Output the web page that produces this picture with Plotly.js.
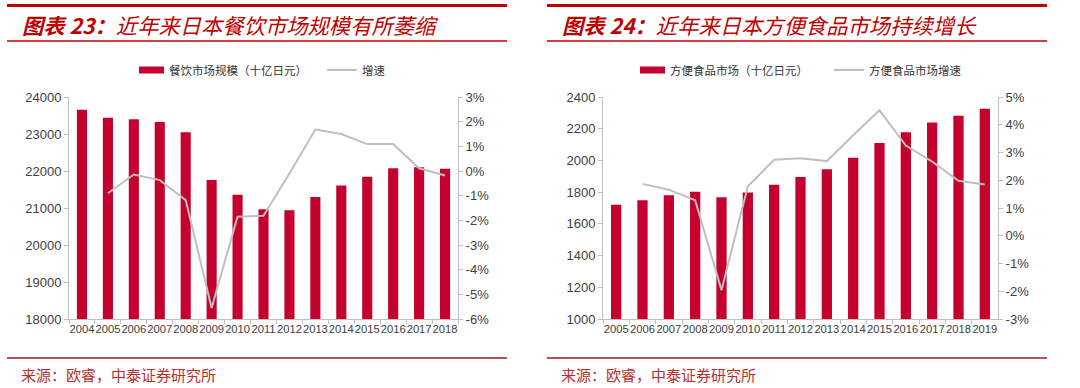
<!DOCTYPE html>
<html>
<head>
<meta charset="utf-8">
<script src="https://cdn.plot.ly/plotly-3.0.1.min.js"></script>
<style>
  html, body { margin: 0; padding: 0; background: #fff; }
  #chart { width: 1080px; height: 388px; }
</style>
</head>
<body>
<div id="chart"></div>
<script>
// ---- Data ----
const years1 = ["2004","2005","2006","2007","2008","2009","2010","2011","2012","2013","2014","2015","2016","2017","2018"];
const market1 = [23655, 23436, 23400, 23327, 23045, 21755, 21357, 20964, 20937, 21295, 21607, 21845, 22073, 22100, 22064];
const growth1 = [null, -0.9, -0.14, -0.37, -1.18, -5.55, -1.85, -1.81, -0.1, 1.68, 1.5, 1.09, 1.09, 0.11, -0.18];

const years2 = ["2005","2006","2007","2008","2009","2010","2011","2012","2013","2014","2015","2016","2017","2018","2019"];
const market2 = [1720, 1749, 1781, 1802, 1768, 1798, 1846, 1896, 1945, 2017, 2110, 2178, 2239, 2282, 2326];
const growth2 = [null, 1.87, 1.66, 1.28, -1.96, 1.78, 2.74, 2.79, 2.69, 3.62, 4.52, 3.25, 2.67, 1.98, 1.85];

const leftTicks1 = [18000, 19000, 20000, 21000, 22000, 23000, 24000];
const rightTickVals1 = [-6, -5, -4, -3, -2, -1, 0, 1, 2, 3];
const rightTickText1 = ["-6%", "-5%", "-4%", "-3%", "-2%", "-1%", "0%", "1%", "2%", "3%"];
const leftTicks2 = [1000, 1200, 1400, 1600, 1800, 2000, 2200, 2400];
const rightTickVals2 = [-3, -2, -1, 0, 1, 2, 3, 4, 5];
const rightTickText2 = ["-3%", "-2%", "-1%", "0%", "1%", "2%", "3%", "4%", "5%"];

const names1 = ["餐饮市场规模（十亿日元）", "增速"];
const names2 = ["方便食品市场（十亿日元）", "方便食品市场增速"];
const titles = ["图表 23：", "近年来日本餐饮市场规模有所萎缩", "图表 24：", "近年来日本方便食品市场持续增长"];
const sourceText = "来源：欧睿，中泰证券研究所";

// ---- Styles ----
const W = 1080, H = 388;
const barColor = "#C5002F";
const lineColor = "#BFBFBF";
const red = "#C00000";
const axisColor = "#BFBFBF";
const tickFont = { family: "Liberation Sans, Arial, sans-serif", size: 13, color: "#404040" };
const xTickFont = { family: "Liberation Sans, Arial, sans-serif", size: 11.2, color: "#404040" };
const cjk = "Noto Sans CJK SC, sans-serif";

const px = v => v / W;
const py = v => 1 - v / H;

const traces = [
  { type: "bar", x: years1, y: market1, name: names1[0], marker: { color: barColor },
    xaxis: "x", yaxis: "y", legend: "legend" },
  { type: "scatter", mode: "lines", x: years1, y: growth1, name: names1[1],
    line: { color: lineColor, width: 2 }, xaxis: "x", yaxis: "y2", legend: "legend", connectgaps: false },
  { type: "bar", x: years2, y: market2, name: names2[0], marker: { color: barColor },
    xaxis: "x2", yaxis: "y3", legend: "legend2" },
  { type: "scatter", mode: "lines", x: years2, y: growth2, name: names2[1],
    line: { color: lineColor, width: 2 }, xaxis: "x2", yaxis: "y4", legend: "legend2" }
];

const yDom = [py(319), py(97)];
const xAxisBase = {
  type: "category", showline: true, linecolor: axisColor, linewidth: 1,
  ticks: "outside", tickson: "boundaries", ticklen: 4, tickcolor: axisColor,
  tickfont: xTickFont, tickangle: 0, showgrid: false, zeroline: false, fixedrange: true
};
const yAxisBase = {
  showline: true, linecolor: axisColor, linewidth: 1, ticks: "outside", ticklen: 4,
  tickcolor: axisColor, tickfont: tickFont, showgrid: false, zeroline: false, fixedrange: true
};

const legendBase = {
  orientation: "h", xanchor: "left", yanchor: "middle", bgcolor: "rgba(0,0,0,0)",
  font: { family: cjk, size: 11.5, color: "#333" }, itemwidth: 30, tracegroupgap: 0,
  entrywidthmode: "pixels"
};

const lineShapes = [];
[0, 540].forEach(off => {
  lineShapes.push({ type: "line", xref: "paper", yref: "paper", x0: px(off + 7), x1: px(off + 507), y0: py(5.5), y1: py(5.5), line: { color: red, width: 3 } });
  lineShapes.push({ type: "line", xref: "paper", yref: "paper", x0: px(off + 7), x1: px(off + 507), y0: py(41), y1: py(41), line: { color: red, width: 1.5 } });
  lineShapes.push({ type: "line", xref: "paper", yref: "paper", x0: px(off + 7), x1: px(off + 507), y0: py(358), y1: py(358), line: { color: "#A01818", width: 1.5 } });
});

const annotations = [];
[[0, titles[0], titles[1]], [540, titles[2], titles[3]]].forEach(([off, a, b]) => {
  annotations.push({ xref: "paper", yref: "paper", x: px(off + 20), y: py(25), xanchor: "left", yanchor: "middle",
    showarrow: false, text: "<b>" + a + "</b>" + b,
    font: { family: cjk, size: 21.3, color: red, style: "italic" } });
  annotations.push({ xref: "paper", yref: "paper", x: px(off + 19), y: py(374), xanchor: "left", yanchor: "middle",
    showarrow: false, text: sourceText,
    font: { family: cjk, size: 15, color: "#B5302A" } });
});

const layout = {
  width: W, height: H,
  margin: { l: 0, r: 0, t: 0, b: 0 },
  paper_bgcolor: "#fff", plot_bgcolor: "rgba(0,0,0,0)",
  bargap: 0.61,
  xaxis: Object.assign({}, xAxisBase, { domain: [px(69), px(458)], anchor: "y" }),
  yaxis: Object.assign({}, yAxisBase, { domain: yDom, anchor: "x", range: [18000, 24000], tickvals: leftTicks1, tickformat: "d" }),
  yaxis2: Object.assign({}, yAxisBase, { overlaying: "y", side: "right", anchor: "x", range: [-6, 3], tickvals: rightTickVals1, ticktext: rightTickText1 }),
  xaxis2: Object.assign({}, xAxisBase, { domain: [px(603), px(998)], anchor: "y3" }),
  yaxis3: Object.assign({}, yAxisBase, { domain: yDom, anchor: "x2", range: [1000, 2400], tickvals: leftTicks2, tickformat: "d" }),
  yaxis4: Object.assign({}, yAxisBase, { overlaying: "y3", side: "right", anchor: "x2", range: [-3, 5], tickvals: rightTickVals2, ticktext: rightTickText2 }),
  legend: Object.assign({}, legendBase, { x: px(129), y: py(70), entrywidth: 148 }),
  legend2: Object.assign({}, legendBase, { x: px(630), y: py(70), entrywidth: 154 }),
  showlegend: true,
  shapes: lineShapes,
  annotations: annotations
};

function widenSwatches() {
  // thin wide rectangle swatch for the bar legend entries, as in the original
  document.querySelectorAll("#chart .legendpoints path").forEach(p => {
    const d = p.getAttribute("d") || "";
    if (/^M6,6H-6V-6H6Z$/.test(d.replace(/\s/g, "")) || p.classList.contains("legendbar")) {
      p.setAttribute("d", "M-10,3.5H15V-3.5H-10Z");
    }
  });
}

Plotly.newPlot("chart", traces, layout, { staticPlot: true, displayModeBar: false }).then(gd => {
  widenSwatches();
  gd.on && gd.on("plotly_afterplot", widenSwatches);
  setTimeout(widenSwatches, 50);
  setTimeout(widenSwatches, 300);
});
</script>
</body>
</html>
